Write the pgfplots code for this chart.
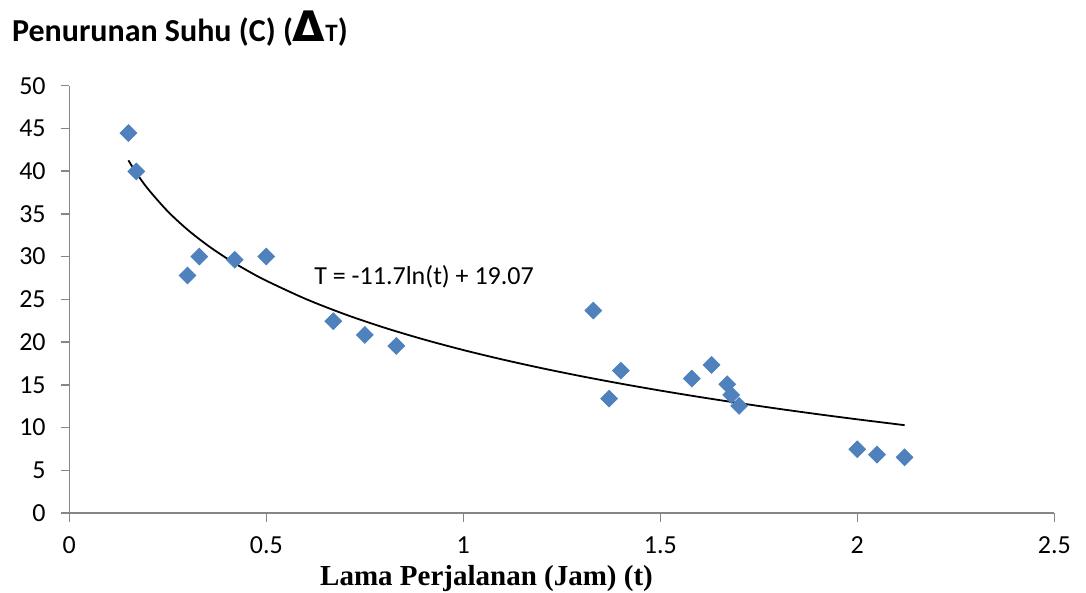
\documentclass[border=0pt]{standalone}
\usepackage{fontspec}
\setmainfont{Carlito}
\newfontfamily\serifbold{Liberation Serif}
\newfontfamily\dejavu{DejaVu Sans}
\usepackage{pgfplots}
\pgfplotsset{compat=1.18}
\definecolor{mblue}{HTML}{4F81BD}
\definecolor{axgray}{HTML}{868686}
\begin{document}
\begin{tikzpicture}
\useasboundingbox (0,0) rectangle (543pt,296.5pt);
\begin{axis}[
  at={(34.65pt,40pt)}, anchor=south west,
  scale only axis, width=492.5pt, height=213.65pt,
  xmin=0, xmax=2.5, ymin=0, ymax=50,
  xtick={0,0.5,...,2.5}, ytick={0,5,...,50},
  axis x line*=bottom, axis y line*=left,
  axis line style={axgray, line width=0.7pt},
  every tick/.style={axgray, line width=0.7pt},
  tick align=outside, major tick length=4.3pt,
  /pgf/number format/assume math mode=true,
  xticklabel style={font=\fontsize{13}{15}\selectfont, yshift=-4pt},
  yticklabel style={font=\fontsize{13}{15}\selectfont, xshift=-4pt},
  clip=false,
]
\addplot[only marks, mark=square*, mark size=2.95pt,
  mark options={rotate=45, fill=mblue, draw=mblue}] coordinates {
(0.15,44.46) (0.17,39.97) (0.30,27.79) (0.33,30.01) (0.42,29.63)
(0.50,30.01) (0.67,22.45) (0.75,20.84) (0.83,19.55) (1.33,23.69)
(1.37,13.38) (1.40,16.66) (1.58,15.73) (1.63,17.33) (1.67,15.07)
(1.68,13.82) (1.70,12.53) (2.00,7.46) (2.05,6.83) (2.12,6.52)
};
\addplot[black, line width=0.9pt, smooth] coordinates {
(0.15,41.266) (0.17,39.802) (0.2,37.900) (0.25,35.290) (0.3,33.156)
(0.35,31.353) (0.4,29.791) (0.45,28.413) (0.5,27.180) (0.6,25.047)
(0.7,23.243) (0.8,21.681) (0.9,20.303) (1.0,19.070) (1.1,17.955)
(1.2,16.937) (1.3,16.000) (1.4,15.133) (1.5,14.326) (1.6,13.571)
(1.7,12.862) (1.8,12.193) (1.9,11.560) (2.0,10.960) (2.12,10.278)
};
\node[anchor=west, inner sep=0pt, font=\fontsize{13}{15}\selectfont] at (axis cs:0.621,27.6) {T = -11.7ln(t) + 19.07};
\end{axis}
\node[anchor=base west, inner sep=0pt] at (5.85pt,275.5pt)
  {\bfseries\fontsize{16}{18}\selectfont Penurunan Suhu (C) ({\dejavu\fontsize{21}{22}\selectfont\bfseries Δ}{\fontsize{12.5}{14}\selectfont T})};
\node[anchor=base, inner sep=0pt] at (243.25pt,3.5pt)
  {\serifbold\bfseries\fontsize{14.5}{17}\selectfont Lama Perjalanan (Jam) (t)};
\end{tikzpicture}
\end{document}
